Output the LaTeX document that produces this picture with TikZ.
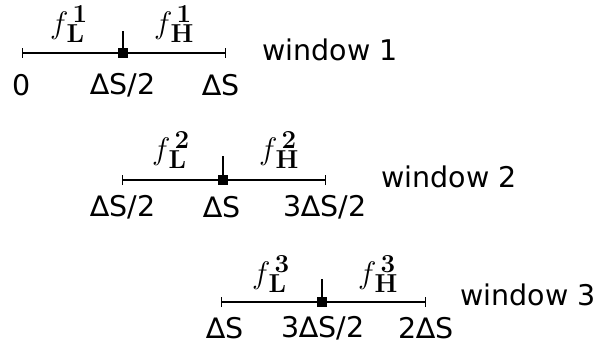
\documentclass[tikz,border=0pt]{standalone}
\usepackage[no-math]{fontspec}
\setmainfont{DejaVu Sans}
\newcommand{\fsym}[2]{$f^{\mkern3mu\mathbf{#1}}_{\mkern1mu\mathbf{#2}}$}
\begin{document}
\begin{tikzpicture}[x=1pt,y=-1pt,
  axis/.style={line width=1.3pt},
  endtick/.style={line width=1pt},
  mark box/.style={fill=black,inner sep=0pt,minimum size=10pt},
  lab/.style={font=\fontsize{28.5}{32}\selectfont,inner sep=0pt},
  flab/.style={font=\Huge,scale=1.25,transform shape,inner sep=0pt}]
\useasboundingbox (0,0) rectangle (607,345);
% window 1
\coordinate (a1) at (22,53); \coordinate (b1) at (225,53);
\node[mark box] (m1) at (123,53) {};
\coordinate (t1) at (123,31);
\draw[axis] (a1) -- (b1);
\draw[endtick] ([yshift=-5]a1) -- ([yshift=5]a1);
\draw[endtick] ([yshift=-5]b1) -- ([yshift=5]b1);
\draw[axis] (m1.center) -- (t1);
\node[flab] (fl1) at (69,24) {\fsym{1}{L}};
\node[flab] (fh1) at (174,24) {\fsym{1}{H}};
\node[lab] (p10) at (22,85) {0};
\node[lab] (p11) at (123,85) {∆S/2};
\node[lab] (p12) at (221,85) {∆S};
\node[lab,anchor=west] (w1) at (262,50) {window 1};
% window 2
\coordinate (a2) at (122,180); \coordinate (b2) at (325,180);
\node[mark box] (m2) at (223,180) {};
\coordinate (t2) at (223,156);
\draw[axis] (a2) -- (b2);
\draw[endtick] ([yshift=-5]a2) -- ([yshift=5]a2);
\draw[endtick] ([yshift=-5]b2) -- ([yshift=5]b2);
\draw[axis] (m2.center) -- (t2);
\node[flab] (fl2) at (171,150) {\fsym{2}{L}};
\node[flab] (fh2) at (279,150) {\fsym{2}{H}};
\node[lab] (p20) at (123,207) {∆S/2};
\node[lab] (p21) at (222,207) {∆S};
\node[lab] (p22) at (325,207) {3∆S/2};
\node[lab,anchor=west] (w2) at (381,177) {window 2};
% window 3
\coordinate (a3) at (221,302); \coordinate (b3) at (425,302);
\node[mark box] (m3) at (322,302) {};
\coordinate (t3) at (322,279);
\draw[axis] (a3) -- (b3);
\draw[endtick] ([yshift=-5]a3) -- ([yshift=5]a3);
\draw[endtick] ([yshift=-5]b3) -- ([yshift=5]b3);
\draw[axis] (m3.center) -- (t3);
\node[flab] (fl3) at (271,274) {\fsym{3}{L}};
\node[flab] (fh3) at (378,274) {\fsym{3}{H}};
\node[lab] (p30) at (225,328) {∆S};
\node[lab] (p31) at (323,328) {3∆S/2};
\node[lab] (p32) at (426,328) {2∆S};
\node[lab,anchor=west] (w3) at (460,295) {window 3};
\end{tikzpicture}
\end{document}
